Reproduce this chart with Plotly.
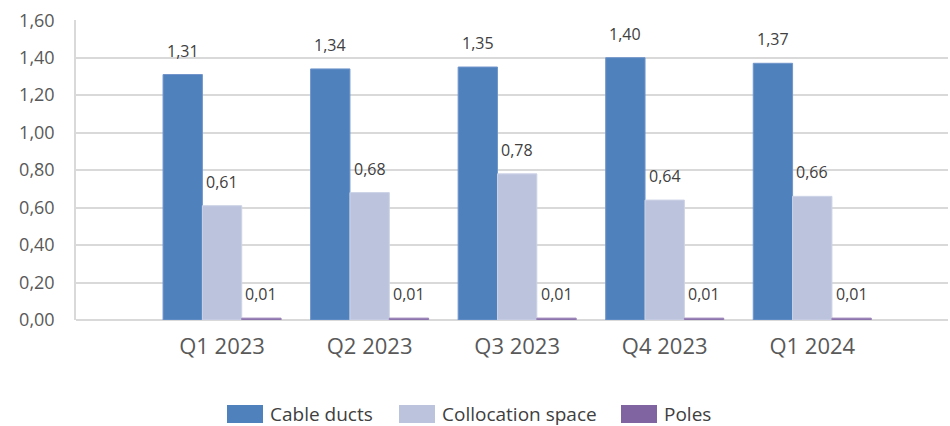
import plotly.graph_objects as go

# Quarterly values per service type
quarters = ["Q1 2023", "Q2 2023", "Q3 2023", "Q4 2023", "Q1 2024"]
cable_ducts = [1.31, 1.34, 1.35, 1.40, 1.37]
collocation_space = [0.61, 0.68, 0.78, 0.64, 0.66]
poles = [0.01, 0.01, 0.01, 0.01, 0.01]
y_ticks = [0.0, 0.2, 0.4, 0.6, 0.8, 1.0, 1.2, 1.4, 1.6]

series = [
    ("Cable ducts", cable_ducts, "#4F81BD", "#7196CB"),
    ("Collocation space", collocation_space, "#BCC3DD", "#CDD3E6"),
    ("Poles", poles, "#8064A2", "#9A82B7"),
]

FONT = "Open Sans"
W, H = 950, 426
M = dict(l=76, r=2, t=20, b=106)
BARGAP = 0.2
n_series = len(series)
bar_w = (1 - BARGAP) / n_series

plot_w = W - M["l"] - M["r"]
plot_h = H - M["t"] - M["b"]


def px_x(px):
    return (px - M["l"]) / plot_w


def px_y(py):
    return (H - M["b"] - py) / plot_h


fig = go.Figure()
annotations = []
shapes = []
for k, (name, vals, color, edge) in enumerate(series):
    fig.add_trace(go.Bar(
        name=name, x=quarters, y=vals,
        marker=dict(color=color, line=dict(color=edge, width=1)),
    ))
    offset = (k - (n_series - 1) / 2) * bar_w
    for i, v in enumerate(vals):
        annotations.append(dict(
            x=i + offset, y=v, xref="x", yref="y",
            text=f"{v:.2f}".replace(".", ","),
            showarrow=False, yanchor="middle", yshift=24,
            font=dict(family=FONT, size=16, color="#404040"),
        ))

# Legend row below the axis: swatch + label for each series
legend_swatch_left = [227, 399, 621]
for (name, _, color, _), sx in zip(series, legend_swatch_left):
    shapes.append(dict(
        type="rect", xref="paper", yref="paper",
        x0=px_x(sx), x1=px_x(sx + 36), y0=px_y(423), y1=px_y(405),
        fillcolor=color, line=dict(width=0),
    ))
    annotations.append(dict(
        x=px_x(sx + 41), y=px_y(414), xref="paper", yref="paper",
        text=name, showarrow=False, xanchor="left", yanchor="middle",
        font=dict(family=FONT, size=19, color="#404040"),
    ))

fig.update_layout(
    width=W, height=H,
    margin=dict(**M, autoexpand=False),
    paper_bgcolor="white", plot_bgcolor="white",
    barmode="group", bargap=BARGAP, bargroupgap=0,
    separators=",.",
    annotations=annotations,
    shapes=shapes,
    showlegend=False,
    xaxis=dict(
        type="category", range=[-0.99, 4.92],
        showgrid=False, showline=False, ticks="",
        tickfont=dict(family=FONT, size=22, color="#595959"),
        ticklabelstandoff=11,
    ),
    yaxis=dict(
        range=[0, 1.601], tickvals=y_ticks, tickformat=".2f",
        showgrid=True, gridcolor="#D9D9D9", gridwidth=2,
        zeroline=True, zerolinecolor="#D9D9D9", zerolinewidth=2,
        showline=True, linecolor="#D9D9D9", linewidth=1.5,
        ticks="", tickfont=dict(family=FONT, size=18, color="#595959"),
        ticklabelstandoff=16,
    ),
)

fig.write_html("out.html")
